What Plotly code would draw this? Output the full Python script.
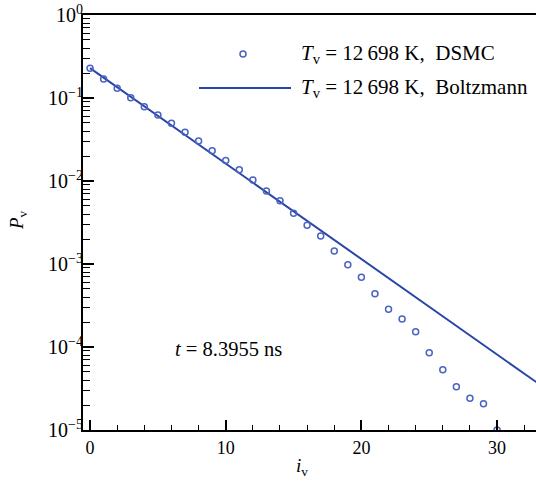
import plotly.graph_objects as go

# ---- data ----
i_dsmc = list(range(0, 31))
p_dsmc = [0.228, 0.169, 0.131, 0.101, 0.0786, 0.0624, 0.0496, 0.0386, 0.0303, 0.0232,
          0.0176, 0.0137, 0.0103, 0.00758, 0.00580, 0.00408, 0.00294, 0.00217, 0.00143,
          0.000981, 0.000692, 0.000439, 0.000284, 0.000217, 0.000153, 8.53e-5, 5.32e-5,
          3.32e-5, 2.42e-5, 2.07e-5, 1.0e-5]

i_boltz = [0, 10, 20, 30, 33]
p_boltz = [0.229, 0.0162, 0.00117, 8.1e-5, 3.67e-5]

y_tickvals = [1e-5, 1e-4, 1e-3, 1e-2, 1e-1, 1e0]
y_ticktext = ["10<sup>\u22125</sup>", "10<sup>\u22124</sup>", "10<sup>\u22123</sup>",
              "10<sup>\u22122</sup>", "10<sup>\u22121</sup>", "10<sup>0</sup>"]
y_minor = [m * 10.0 ** k for k in range(-5, 0) for m in range(2, 10)]
x_tickvals = [0, 10, 20, 30]
x_minor = [v for v in range(2, 33, 2) if v % 10 != 0]

label_dsmc = "<i>T</i><sub>v</sub> = 12\u2009698 K,  DSMC"
label_boltz = "<i>T</i><sub>v</sub> = 12\u2009698 K,  Boltzmann"
time_text = "<i>t</i> = 8.3955 ns"

FONT = "Liberation Serif"
BLUE_LINE = "#2846a8"
BLUE_MARK = "#4a63c4"

fig = go.Figure()
fig.add_trace(go.Scatter(x=i_boltz, y=p_boltz, mode="lines",
                         line=dict(color=BLUE_LINE, width=2), showlegend=False))
fig.add_trace(go.Scatter(x=i_dsmc, y=p_dsmc, mode="markers",
                         marker=dict(symbol="circle-open", size=6, color=BLUE_MARK,
                                     line=dict(width=1.5, color=BLUE_MARK)),
                         showlegend=False))

# custom legend (paper coordinates)
fig.add_shape(type="circle", xref="paper", yref="paper",
              x0=0.3532 - 3 / 453, x1=0.3532 + 3 / 453, y0=0.906 - 3 / 415, y1=0.906 + 3 / 415,
              line=dict(color=BLUE_MARK, width=1.5))
fig.add_shape(type="line", xref="paper", yref="paper", x0=0.2561, x1=0.4592, y0=0.824, y1=0.824,
              line=dict(color=BLUE_LINE, width=2))
fig.add_annotation(xref="paper", yref="paper", x=0.4768, y=0.906, text=label_dsmc,
                   showarrow=False, xanchor="left", yanchor="middle",
                   font=dict(family=FONT, size=21, color="black"))
fig.add_annotation(xref="paper", yref="paper", x=0.4768, y=0.824, text=label_boltz,
                   showarrow=False, xanchor="left", yanchor="middle",
                   font=dict(family=FONT, size=21, color="black"))
fig.add_annotation(xref="paper", yref="paper", x=0.322, y=0.195, text=time_text,
                   showarrow=False, xanchor="center", yanchor="middle",
                   font=dict(family=FONT, size=20.5, color="black"))
# axis titles
fig.add_annotation(xref="paper", yref="paper", x=-0.1435, y=0.506,
                   text="<i>P</i><sub>v</sub>", textangle=-90, showarrow=False,
                   xanchor="center", yanchor="middle",
                   font=dict(family=FONT, size=19, color="black"))
fig.add_annotation(xref="paper", yref="paper", x=0.4834, y=-0.089,
                   text="<i>i</i><sub>v</sub>", showarrow=False,
                   xanchor="center", yanchor="middle",
                   font=dict(family=FONT, size=19, color="black"))

fig.update_layout(
    width=536, height=482,
    margin=dict(l=83, r=0, t=15, b=52),
    paper_bgcolor="white", plot_bgcolor="white",
    font=dict(family=FONT, size=18, color="black"),
    showlegend=False,
)
fig.update_xaxes(
    range=[-0.52, 32.87], showgrid=False, zeroline=False,
    showline=True, linecolor="black", linewidth=2, mirror=True,
    tickmode="array", tickvals=x_tickvals, ticks="inside", ticklen=10, tickwidth=2,
    tickcolor="black", tickfont=dict(family=FONT, size=18, color="black"),
    minor=dict(tickmode="array", tickvals=x_minor, ticks="inside", ticklen=5,
               tickwidth=1, tickcolor="black", showgrid=False),
)
fig.update_yaxes(
    type="log", range=[-5, 0], showgrid=False, zeroline=False,
    showline=True, linecolor="black", linewidth=2,
    tickmode="array", tickvals=y_tickvals, ticktext=y_ticktext,
    ticks="inside", ticklen=11, tickwidth=2, tickcolor="black",
    tickfont=dict(family=FONT, size=20, color="black"), ticklabelstandoff=-6,
    minor=dict(tickmode="array", tickvals=y_minor, ticks="inside", ticklen=7,
               tickwidth=1, tickcolor="black", showgrid=False),
)

fig.write_html("out.html")
